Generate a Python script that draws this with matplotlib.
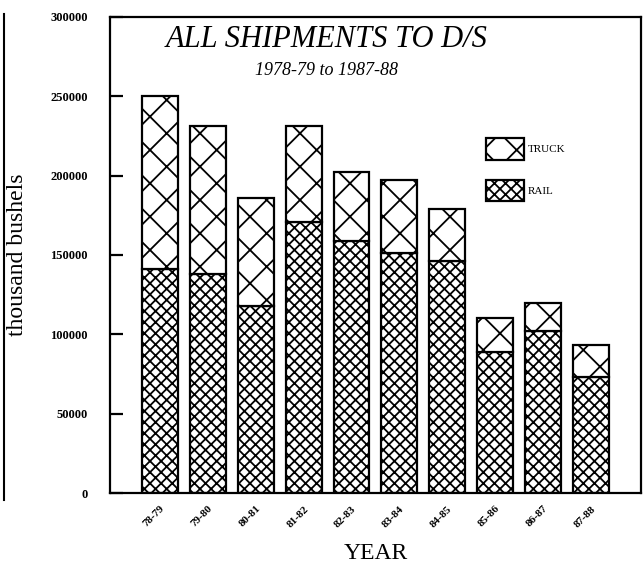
import matplotlib
matplotlib.use('Agg')
import matplotlib.pyplot as plt
from matplotlib.lines import Line2D
import numpy as np

# values in thousand bushels
years = ['78-79', '79-80', '80-81', '81-82', '82-83',
         '83-84', '84-85', '85-86', '86-87', '87-88']
rail = [141000, 138000, 118000, 171000, 159000, 151000, 146000, 89000, 102000, 73000]
truck = [109000, 93000, 68000, 60000, 43000, 46000, 33000, 21000, 18000, 20000]
yticks = [0, 50000, 100000, 150000, 200000, 250000, 300000]

plt.rcParams['font.family'] = ['Liberation Serif', 'DejaVu Serif']
plt.rcParams['hatch.linewidth'] = 1.3
plt.rcParams['hatch.color'] = 'black'

fig = plt.figure(figsize=(6.44, 5.75), dpi=100)
ax = fig.add_axes([0.171, 0.1426, 0.824, 0.828])

x = np.arange(len(years))
ax.bar(x, rail, width=0.75, color='white', edgecolor='black',
       linewidth=1.6, hatch='xxx', label='RAIL')
ax.bar(x, truck, bottom=rail, width=0.75, color='white', edgecolor='black',
       linewidth=1.6, hatch='x', label='TRUCK')

ax.set_xlim(-1.045, len(years) - 1 + 1.045)
ax.set_ylim(0, 300000)
ax.set_yticks(yticks)
ax.set_yticklabels([str(v) for v in yticks], fontsize=9, fontweight='bold')
ax.tick_params(axis='y', direction='in', length=9, width=1.6, pad=16)
ax.set_xticks(x)
ax.set_xticklabels(years, rotation=45, ha='right', va='top',
                   rotation_mode='anchor', fontsize=8, fontweight='bold')
ax.tick_params(axis='x', length=0, pad=8)
for s in ax.spines.values():
    s.set_linewidth(1.6)

ax.set_ylabel('thousand bushels', fontsize=17, labelpad=16)
ax.set_xlabel('YEAR', fontsize=17, labelpad=10)

ax.text(0.408, 0.982, 'ALL SHIPMENTS TO D/S', transform=ax.transAxes,
        ha='center', va='top', fontsize=22, style='italic')
ax.text(0.408, 0.905, '1978-79 to 1987-88', transform=ax.transAxes,
        ha='center', va='top', fontsize=13, style='italic')

h, l = ax.get_legend_handles_labels()
ax.legend(h[::-1], l[::-1], loc='upper left', bbox_to_anchor=(0.708, 0.745),
          frameon=False, fontsize=8, handlelength=3.4, handleheight=2.6,
          labelspacing=1.8, handletextpad=0.4, borderpad=0, borderaxespad=0)

# left border line from the scan
fig.add_artist(Line2D([0.006, 0.006], [0.13, 0.975], color='black', linewidth=1.5))

fig.savefig('out.png', dpi=100)
